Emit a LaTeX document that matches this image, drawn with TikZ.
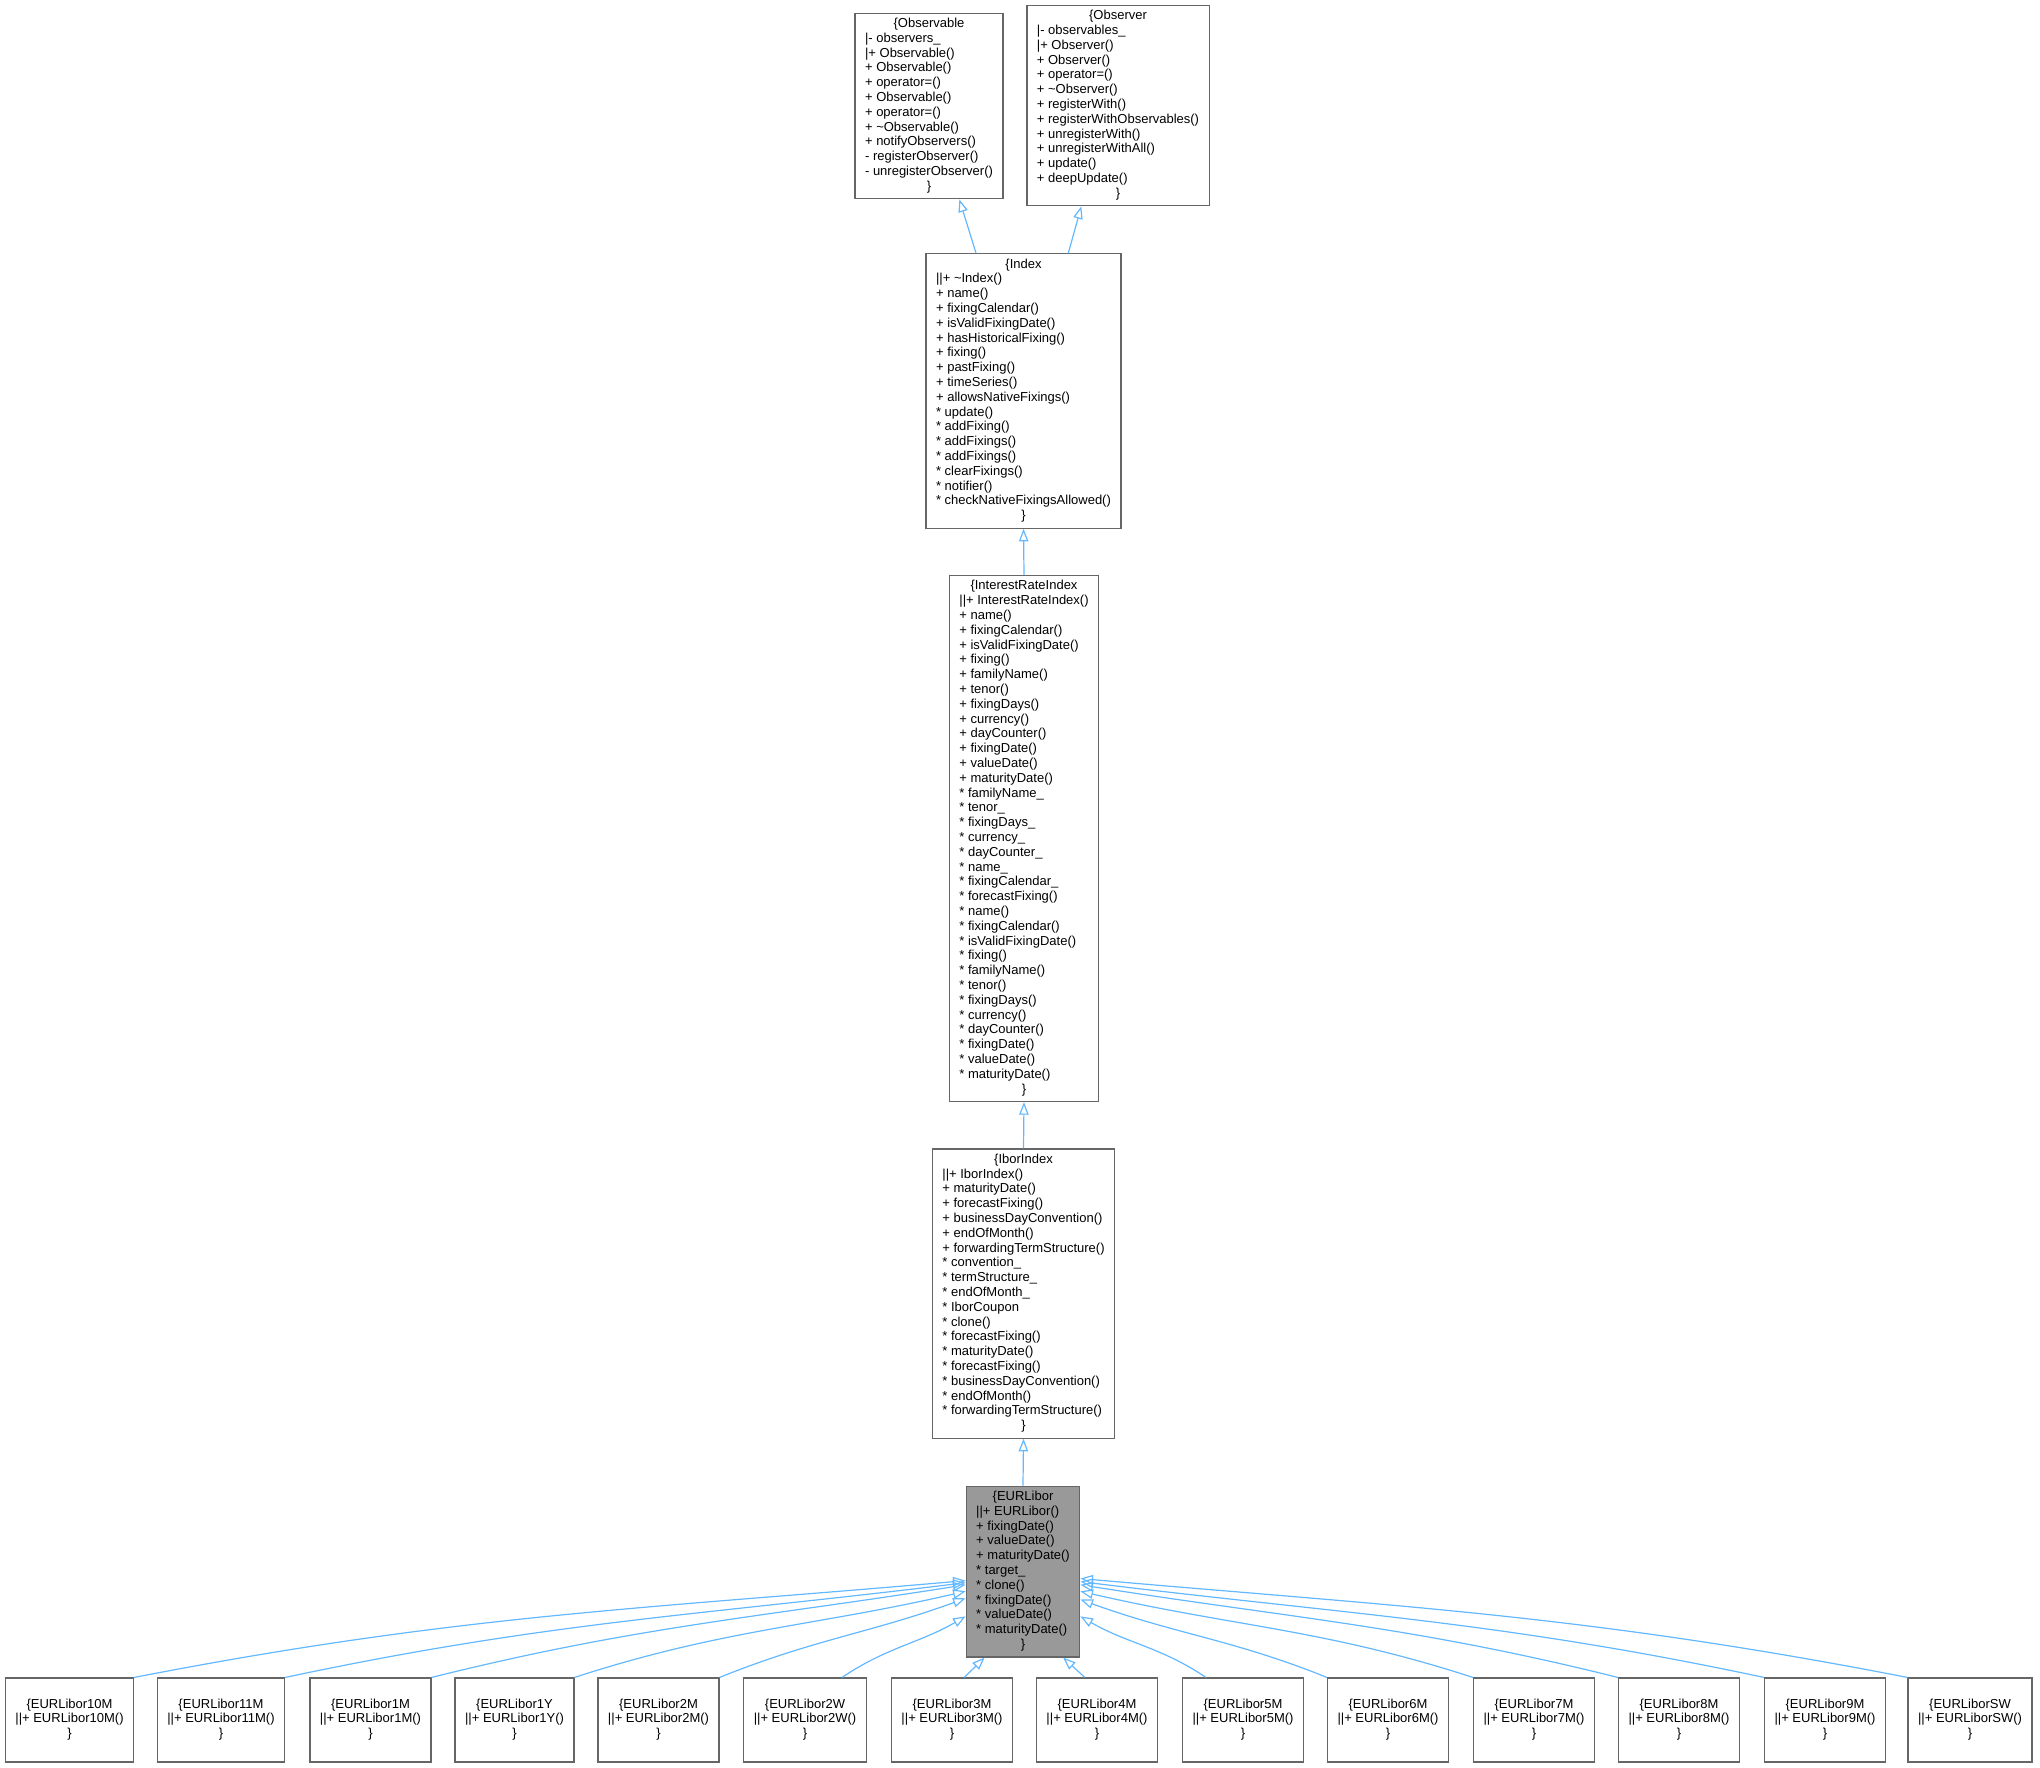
\documentclass[tikz,border=0pt]{standalone}
\usepackage{fontspec}
\setmainfont{Liberation Sans}
\usetikzlibrary{arrows.meta}
\definecolor{edgeblue}{HTML}{63B8FF}
\definecolor{boxline}{HTML}{666666}
\definecolor{boxfill}{HTML}{999999}
\newcommand{\ClassHead}[1]{\multicolumn{1}{@{}c@{}}{\{#1}}
\newcommand{\ClassEnd}{\multicolumn{1}{@{}c@{}}{\}}}
\newcommand{\classfont}{\fontsize{6.5pt}{7.4pt}\selectfont}

\begin{document}
\begin{tikzpicture}[x=0.5pt, y=0.5pt,
    classbox/.style={draw=boxline, line width=0.6pt, fill=white, inner xsep=5pt, inner ysep=2pt, font=\classfont},
    rootbox/.style={classbox, fill=boxfill},
    leafbox/.style={classbox, minimum height=42pt},
    inherit/.style={draw=edgeblue, line width=0.6pt, -{Triangle[open, length=6.3pt, width=4.7pt]}}]
    \useasboundingbox (0,0) rectangle (2040,-1767);

    % Base classes
    \node[classbox] (observable) at (929,-106) {\begin{tabular}{@{}l@{}}
        \ClassHead{Observable}\\
        |- observers\_\\
        |+ Observable()\\
        + Observable()\\
        + operator=()\\
        + Observable()\\
        + operator=()\\
        + \textasciitilde Observable()\\
        + notifyObservers()\\
        - registerObserver()\\
        - unregisterObserver()\\
        \ClassEnd
    \end{tabular}};
    \node[classbox] (observer) at (1118,-105.5) {\begin{tabular}{@{}l@{}}
        \ClassHead{Observer}\\
        |- observables\_\\
        |+ Observer()\\
        + Observer()\\
        + operator=()\\
        + \textasciitilde Observer()\\
        + registerWith()\\
        + registerWithObservables()\\
        + unregisterWith()\\
        + unregisterWithAll()\\
        + update()\\
        + deepUpdate()\\
        \ClassEnd
    \end{tabular}};

    \node[classbox] (index) at (1023.5,-391) {\begin{tabular}{@{}l@{}}
        \ClassHead{Index}\\
        ||+ \textasciitilde Index()\\
        + name()\\
        + fixingCalendar()\\
        + isValidFixingDate()\\
        + hasHistoricalFixing()\\
        + fixing()\\
        + pastFixing()\\
        + timeSeries()\\
        + allowsNativeFixings()\\
        {*} update()\\
        {*} addFixing()\\
        {*} addFixings()\\
        {*} addFixings()\\
        {*} clearFixings()\\
        {*} notifier()\\
        {*} checkNativeFixingsAllowed()\\
        \ClassEnd
    \end{tabular}};

    \node[classbox] (irindex) at (1024,-838.5) {\begin{tabular}{@{}l@{}}
        \ClassHead{InterestRateIndex}\\
        ||+ InterestRateIndex()\\
        + name()\\
        + fixingCalendar()\\
        + isValidFixingDate()\\
        + fixing()\\
        + familyName()\\
        + tenor()\\
        + fixingDays()\\
        + currency()\\
        + dayCounter()\\
        + fixingDate()\\
        + valueDate()\\
        + maturityDate()\\
        {*} familyName\_\\
        {*} tenor\_\\
        {*} fixingDays\_\\
        {*} currency\_\\
        {*} dayCounter\_\\
        {*} name\_\\
        {*} fixingCalendar\_\\
        {*} forecastFixing()\\
        {*} name()\\
        {*} fixingCalendar()\\
        {*} isValidFixingDate()\\
        {*} fixing()\\
        {*} familyName()\\
        {*} tenor()\\
        {*} fixingDays()\\
        {*} currency()\\
        {*} dayCounter()\\
        {*} fixingDate()\\
        {*} valueDate()\\
        {*} maturityDate()\\
        \ClassEnd
    \end{tabular}};

    \node[classbox] (ibor) at (1023.5,-1293.5) {\begin{tabular}{@{}l@{}}
        \ClassHead{IborIndex}\\
        ||+ IborIndex()\\
        + maturityDate()\\
        + forecastFixing()\\
        + businessDayConvention()\\
        + endOfMonth()\\
        + forwardingTermStructure()\\
        {*} convention\_\\
        {*} termStructure\_\\
        {*} endOfMonth\_\\
        {*} IborCoupon\\
        {*} clone()\\
        {*} forecastFixing()\\
        {*} maturityDate()\\
        {*} forecastFixing()\\
        {*} businessDayConvention()\\
        {*} endOfMonth()\\
        {*} forwardingTermStructure()\\
        \ClassEnd
    \end{tabular}};

    \node[rootbox] (libor) at (1023,-1571.5) {\begin{tabular}{@{}l@{}}
        \ClassHead{EURLibor}\\
        ||+ EURLibor()\\
        + fixingDate()\\
        + valueDate()\\
        + maturityDate()\\
        {*} target\_\\
        {*} clone()\\
        {*} fixingDate()\\
        {*} valueDate()\\
        {*} maturityDate()\\
        \ClassEnd
    \end{tabular}};

    % Derived tenors
    \foreach \tn/\px in {10M/69.5, 11M/221, 1M/370.5, 1Y/514.5, 2M/658.5, 2W/805, 3M/952,
                         4M/1097, 5M/1243, 6M/1388, 7M/1534, 8M/1679, 9M/1825, SW/1970}
        \node[leafbox] (l\tn) at (\px,-1720) {\begin{tabular}{@{}l@{}}
            \ClassHead{EURLibor\tn}\\
            ||+ EURLibor\tn()\\
            \ClassEnd
        \end{tabular}};

    % Inheritance
    \draw[inherit] (index.109) -- (observable.288);
    \draw[inherit] (index.72) -- (observer.250);
    \draw[inherit] (irindex.north) -- (index.south);
    \draw[inherit] (ibor.north) -- (irindex.south);
    \draw[inherit] (libor.north) -- (ibor.south);
    \foreach \tn/\sa/\ta/\oa/\ia in {10M/north east/189/11/185, 11M/north east/191/12/187,
            1M/north east/193/14/189, 1Y/north east/199/18/193, 2M/north east/205/22/200,
            2W/49/218/34/210, 5M/131/322/146/330, 6M/north west/334/158/340,
            7M/north west/341/162/347, 8M/north west/347/166/351,
            9M/north west/350/168/353, SW/north west/353/169/355}
        \draw[inherit] (l\tn.\sa) to[out=\oa, in=\ia] (libor.\ta);
    \draw[inherit] (l3M.74) -- (libor.246);
    \draw[inherit] (l4M.106) -- (libor.295);
\end{tikzpicture}
\end{document}
